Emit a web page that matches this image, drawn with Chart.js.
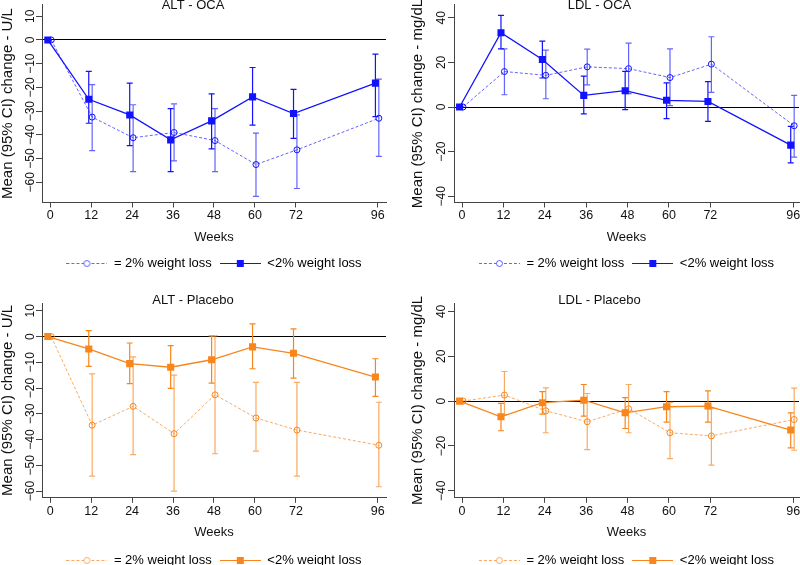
<!DOCTYPE html>
<html>
<head>
<meta charset="utf-8">
<script src="https://cdn.jsdelivr.net/npm/chart.js@4.4.0/dist/chart.umd.min.js"></script>
<style>
  html, body { margin: 0; padding: 0; background: #fff; overflow: hidden; }
  #wrap { position: relative; width: 800px; height: 565px; overflow: hidden; }
  canvas { position: absolute; }
</style>
</head>
<body>
<div id="wrap">
  <canvas id="altOca" width="400" height="282" style="left:0;top:0"></canvas>
  <canvas id="ldlOca" width="400" height="282" style="left:400px;top:0"></canvas>
  <canvas id="altPbo" width="400" height="295" style="left:0;top:282px"></canvas>
  <canvas id="ldlPbo" width="400" height="295" style="left:400px;top:282px"></canvas>
</div>
<script>
// weeks on study and axis ticks
const weeks = [0, 12, 24, 36, 48, 60, 72, 96];
const altTicks = [-60, -50, -40, -30, -20, -10, 0, 10];
const ldlTicks = [-40, -20, 0, 20, 40];
const seriesLabels = ['= 2% weight loss', '<2% weight loss'];

// ALT - OCA
const altOcaGe2 = [0, -32.5, -41.2, -39.0, -42.4, -52.5, -46.3, -33.0];
const altOcaGe2Lo = [null, -46.6, -55.5, -51.0, -55.5, -65.9, -62.6, -49.1];
const altOcaGe2Hi = [null, -18.8, -27.3, -26.9, -28.9, -39.3, -31.6, -16.5];
const altOcaLt2 = [0, -25.0, -31.6, -42.1, -34.1, -24.0, -31.0, -18.2];
const altOcaLt2Lo = [null, -35.1, -44.5, -55.5, -45.9, -35.9, -41.5, -32.3];
const altOcaLt2Hi = [null, -13.2, -18.2, -28.9, -22.7, -11.6, -20.8, -6.0];

// LDL - OCA
const ldlOcaGe2 = [0, 15.9, 14.2, 18.0, 17.2, 13.2, 19.2, -8.4];
const ldlOcaGe2Lo = [null, 5.5, 3.7, 9.9, 6.0, 0.6, 6.6, -22.5];
const ldlOcaGe2Hi = [null, 26.1, 25.5, 25.9, 28.6, 26.1, 31.5, 5.2];
const ldlOcaLt2 = [0, 33.3, 21.3, 5.2, 7.3, 3.0, 2.5, -17.1];
const ldlOcaLt2Lo = [null, 26.1, 13.0, -3.1, -1.2, -5.2, -6.4, -25.0];
const ldlOcaLt2Hi = [null, 41.1, 29.5, 13.8, 16.0, 10.8, 11.4, -8.7];

// ALT - Placebo
const altPboGe2 = [0, -34.4, -27.1, -37.7, -22.6, -31.6, -36.3, -42.2];
const altPboGe2Lo = [null, -54.2, -45.8, -60.0, -45.5, -44.5, -54.2, -58.3];
const altPboGe2Hi = [null, -14.5, -7.9, -15.0, 0.3, -17.8, -17.8, -25.5];
const altPboLt2 = [0, -4.8, -10.5, -11.9, -9.0, -4.0, -6.5, -15.7];
const altPboLt2Lo = [null, -11.6, -18.3, -20.1, -18.1, -12.5, -16.1, -23.2];
const altPboLt2Hi = [null, 2.3, -2.5, -3.5, 0.3, 4.9, 3.0, -8.6];

// LDL - Placebo
const ldlPboGe2 = [0, 2.7, -4.3, -9.2, -3.4, -14.1, -15.5, -8.2];
const ldlPboGe2Lo = [null, -6.0, -14.1, -21.6, -14.1, -25.6, -28.5, -21.9];
const ldlPboGe2Hi = [null, 13.2, 5.9, 3.4, 7.4, -0.6, -3.3, 5.8];
const ldlPboLt2 = [0, -7.0, -0.7, 0.4, -5.2, -2.5, -2.2, -12.9];
const ldlPboLt2Lo = [null, -13.2, -5.8, -6.7, -12.2, -9.4, -9.4, -20.8];
const ldlPboLt2Hi = [null, -1.0, 4.2, 7.4, 1.6, 4.2, 4.6, -5.2];

// small horizontal dodge so the two groups don't overlap
const circleShift = 0.3;
const squareShift = -0.7;

const BLUE = '#1212ff', BLUE_LIGHT = 'rgba(40,40,255,0.72)';
const ORANGE = '#f8861c', ORANGE_LIGHT = 'rgba(248,134,28,0.7)';
const FONT = '"Liberation Sans", Arial, Helvetica, sans-serif';

Chart.defaults.font.family = FONT;
Chart.defaults.color = '#111';

function legendMarker(color, dashed, shape) {
  const c = document.createElement('canvas');
  c.width = 41; c.height = 12;
  const g = c.getContext('2d');
  g.strokeStyle = color;
  g.lineWidth = 1;
  if (dashed) g.setLineDash([3, 2]);
  g.beginPath(); g.moveTo(0, 6.5); g.lineTo(41, 6.5); g.stroke();
  g.setLineDash([]);
  if (shape === 'circle') {
    g.fillStyle = '#fff';
    g.beginPath(); g.arc(20.5, 6.5, 3, 0, Math.PI * 2); g.fill(); g.stroke();
  } else {
    g.fillStyle = color;
    g.fillRect(17, 3, 7, 7);
  }
  return c;
}

const errorBars = {
  id: 'errorBars',
  beforeDatasetsDraw(chart) {
    const {ctx, scales: {x, y}} = chart;
    chart.data.datasets.forEach(ds => {
      ctx.save();
      ctx.strokeStyle = ds.errColor;
      ctx.lineWidth = 1.2;
      ds.data.forEach((p, i) => {
        const lo = ds.errLo[i], hi = ds.errHi[i];
        if (lo == null || hi == null) return;
        const px = x.getPixelForValue(p.x);
        const y1 = y.getPixelForValue(lo), y2 = y.getPixelForValue(hi);
        ctx.beginPath();
        ctx.moveTo(px, y1); ctx.lineTo(px, y2);
        ctx.moveTo(px - 3, y1); ctx.lineTo(px + 3, y1);
        ctx.moveTo(px - 3, y2); ctx.lineTo(px + 3, y2);
        ctx.stroke();
      });
      ctx.restore();
    });
  }
};

// y tick labels turned 90 degrees, as in the original figure
const yTickText = {
  id: 'yTickText',
  afterDraw(chart, args, opts) {
    const s = chart.scales.y, ctx = chart.ctx;
    ctx.save();
    ctx.font = '12px ' + FONT;
    ctx.fillStyle = '#111';
    ctx.textAlign = 'center';
    ctx.textBaseline = 'middle';
    s.ticks.forEach(t => {
      ctx.save();
      ctx.translate(opts.x, s.getPixelForValue(t.value));
      ctx.rotate(-Math.PI / 2);
      ctx.fillText(String(t.value).replace('-', '\u2212'), 0, 0);
      ctx.restore();
    });
    ctx.restore();
  }
};

function buildChart(id, o) {
  const ctx = document.getElementById(id).getContext('2d');
  return new Chart(ctx, {
    type: 'line',
    data: {
      datasets: [{
        label: seriesLabels[0],
        data: weeks.map((w, i) => ({x: w + circleShift, y: o.ge2[i]})),
        errLo: o.ge2Lo, errHi: o.ge2Hi, errColor: o.light,
        marker: legendMarker(o.light, true, 'circle'),
        borderColor: o.light, borderDash: [3, 2], borderWidth: 1,
        pointStyle: 'circle', pointRadius: 3, pointBorderWidth: 1,
        pointBackgroundColor: 'rgba(255,255,255,0)', pointBorderColor: o.color,
        tension: 0,
      }, {
        label: seriesLabels[1],
        data: weeks.map((w, i) => ({x: w + squareShift, y: o.lt2[i]})),
        errLo: o.lt2Lo, errHi: o.lt2Hi, errColor: o.color,
        marker: legendMarker(o.color, false, 'rect'),
        borderColor: o.color, borderWidth: 1.3,
        pointStyle: 'rect', pointRadius: 5, pointBorderWidth: 0,
        pointBackgroundColor: o.color, pointBorderColor: o.color,
        tension: 0,
      }],
    },
    options: {
      responsive: false,
      animation: false,
      layout: {
        autoPadding: false,
        padding: {top: o.padTop, bottom: o.padBottom, left: 0, right: o.padRight},
      },
      plugins: {
        title: {
          display: true, text: o.title,
          font: {size: 13, weight: 'normal'}, color: '#111',
          padding: {top: o.titleTop, bottom: o.titleBottom},
        },
        legend: {
          position: 'bottom',
          fullSize: false,
          labels: {
            usePointStyle: true, pointStyleWidth: 41, boxHeight: 12,
            padding: 8, font: {size: 13}, color: '#111',
            generateLabels: chart => chart.data.datasets.map((ds, i) => ({
              text: ds.label, pointStyle: ds.marker, datasetIndex: i,
              hidden: false, lineWidth: 0,
              strokeStyle: 'rgba(0,0,0,0)', fillStyle: 'rgba(0,0,0,0)',
            })),
          },
        },
        tooltip: {enabled: false},
        yTickText: {x: o.yLabelX},
      },
      scales: {
        x: {
          type: 'linear', min: o.xMin, max: o.xMax,
          afterBuildTicks: s => { s.ticks = weeks.map(v => ({value: v})); },
          afterFit: s => { s.height = o.xAxisH; s.paddingLeft = 0; s.paddingRight = 0; },
          grid: {drawOnChartArea: false, tickLength: 5, tickColor: '#444'},
          border: {color: '#444'},
          ticks: {font: {size: 12.5}, color: '#111', padding: 1, maxRotation: 0, autoSkip: false},
          title: {display: true, text: 'Weeks', font: {size: 13}, color: '#111',
                  padding: {top: 0, bottom: o.weeksPad}},
        },
        y: {
          min: o.yMin, max: o.yMax,
          afterBuildTicks: s => { s.ticks = o.yTicks.map(v => ({value: v})); },
          afterFit: s => { s.width = o.yAxisW; s.paddingTop = 0; s.paddingBottom = 0; },
          grid: {
            color: c => (c.tick && c.tick.value === 0 ? '#000' : 'rgba(0,0,0,0)'),
            tickColor: '#444', tickLength: 6,
          },
          border: {color: '#444'},
          ticks: {display: false},
          title: {display: true, text: o.yTitle, font: {size: 15}, color: '#111',
                  padding: {top: o.yTitlePad, bottom: 0}},
        },
      },
    },
    plugins: [errorBars, yTickText],
  });
}

const topRow = {padTop: 0, padBottom: 2.5, titleTop: -2, titleBottom: -9, xAxisH: 46, weeksPad: 3.5};
const bottomRow = {padTop: 11, padBottom: 0.5, titleTop: 0, titleBottom: -5.5, xAxisH: 47.7, weeksPad: 5.7};
const leftCol = {yAxisW: 42, padRight: 14, xMin: -2.4, xMax: 98.4, yLabelX: 31, yTitlePad: -1.5,
                 yTitle: 'Mean (95% CI) change - U/L', yTicks: altTicks};
const rightCol = {yAxisW: 54, padRight: 1, xMin: -2.32, xMax: 97.7, yLabelX: 41.5, yTitlePad: 9.3,
                  yTitle: 'Mean (95% CI) change - mg/dL', yTicks: ldlTicks};

buildChart('altOca', Object.assign({}, topRow, leftCol, {
  title: 'ALT - OCA', color: BLUE, light: BLUE_LIGHT, yMin: -68.5, yMax: 14.9,
  ge2: altOcaGe2, ge2Lo: altOcaGe2Lo, ge2Hi: altOcaGe2Hi,
  lt2: altOcaLt2, lt2Lo: altOcaLt2Lo, lt2Hi: altOcaLt2Hi,
}));
buildChart('ldlOca', Object.assign({}, topRow, rightCol, {
  title: 'LDL - OCA', color: BLUE, light: BLUE_LIGHT, yMin: -42.8, yMax: 45.9,
  ge2: ldlOcaGe2, ge2Lo: ldlOcaGe2Lo, ge2Hi: ldlOcaGe2Hi,
  lt2: ldlOcaLt2, lt2Lo: ldlOcaLt2Lo, lt2Hi: ldlOcaLt2Hi,
}));
buildChart('altPbo', Object.assign({}, bottomRow, leftCol, {
  title: 'ALT - Placebo', color: ORANGE, light: ORANGE_LIGHT, yMin: -62.6, yMax: 13.0,
  ge2: altPboGe2, ge2Lo: altPboGe2Lo, ge2Hi: altPboGe2Hi,
  lt2: altPboLt2, lt2Lo: altPboLt2Lo, lt2Hi: altPboLt2Hi,
}));
buildChart('ldlPbo', Object.assign({}, bottomRow, rightCol, {
  title: 'LDL - Placebo', color: ORANGE, light: ORANGE_LIGHT, yMin: -43.1, yMax: 43.7,
  ge2: ldlPboGe2, ge2Lo: ldlPboGe2Lo, ge2Hi: ldlPboGe2Hi,
  lt2: ldlPboLt2, lt2Lo: ldlPboLt2Lo, lt2Hi: ldlPboLt2Hi,
}));
</script>
</body>
</html>
